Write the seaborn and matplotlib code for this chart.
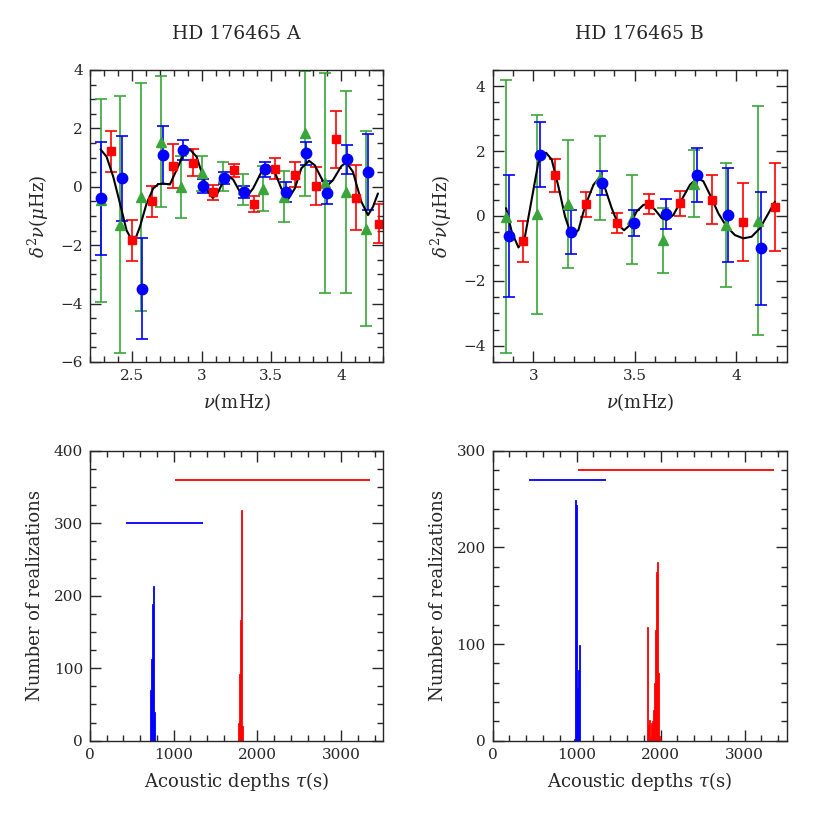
import numpy as np
import matplotlib
matplotlib.use("Agg")
import matplotlib.pyplot as plt
from matplotlib.ticker import MultipleLocator, FuncFormatter
import seaborn as sns

sns.set_style("ticks")
plt.rcParams['font.family'] = ['DejaVu Serif']
plt.rcParams['mathtext.fontset'] = 'dejavuserif'

# --- HD 176465 A : second differences (l=0 blue, l=1 red, l=2 green)
a_blue_x = [2.279, 2.427, 2.575, 2.720, 2.868, 3.011, 3.159, 3.305, 3.453, 3.603, 3.751, 3.897, 4.044, 4.195]
a_blue_y = [-0.40, 0.29, -3.49, 1.09, 1.26, 0.02, 0.29, -0.17, 0.60, -0.17, 1.14, -0.20, 0.94, 0.51]
a_blue_e = [1.95, 1.45, 1.72, 1.00, 0.35, 0.25, 0.20, 0.20, 0.25, 0.35, 0.40, 0.40, 0.50, 1.30]

a_red_x = [2.350, 2.498, 2.646, 2.792, 2.935, 3.083, 3.231, 3.374, 3.524, 3.672, 3.818, 3.966, 4.109, 4.269]
a_red_y = [1.22, -1.83, -0.49, 0.71, 0.83, -0.19, 0.57, -0.60, 0.61, 0.42, 0.02, 1.63, -0.37, -1.26]
a_red_e = [0.70, 0.70, 0.53, 0.74, 0.45, 0.25, 0.22, 0.27, 0.36, 0.44, 0.65, 0.98, 1.10, 0.67]

a_green_x = [2.276, 2.415, 2.563, 2.708, 2.856, 3.000, 3.150, 3.298, 3.441, 3.590, 3.740, 3.887, 4.032, 4.180]
a_green_y = [-0.46, -1.30, -0.34, 1.54, 0.00, 0.46, 0.34, -0.09, -0.06, -0.34, 1.83, 0.14, -0.17, -1.43]
a_green_e = [3.47, 4.40, 3.90, 2.25, 1.07, 0.60, 0.50, 0.52, 0.77, 0.87, 2.13, 3.77, 3.46, 3.35]

a_fit_x = [2.276, 2.319, 2.367, 2.415, 2.462, 2.498, 2.522, 2.558, 2.606, 2.653, 2.689, 2.725, 2.773,
           2.820, 2.868, 2.916, 2.964, 3.011, 3.047, 3.078, 3.107, 3.143, 3.190, 3.226, 3.274, 3.322,
           3.369, 3.429, 3.477, 3.524, 3.572, 3.620, 3.668, 3.715, 3.770, 3.811, 3.859, 3.894, 3.942,
           4.002, 4.038, 4.085, 4.145, 4.193, 4.228, 4.264]
a_fit_y = [1.28, 1.03, 0.34, -0.57, -1.49, -1.81, -1.83, -1.37, -0.57, -0.06, 0.09, 0.11, 0.08,
           0.57, 1.09, 1.28, 1.03, 0.34, -0.17, -0.37, -0.29, 0.06, 0.37, 0.25, -0.17, -0.34,
           -0.06, 0.51, 0.74, 0.51, -0.06, -0.43, -0.06, 0.63, 0.89, 0.74, 0.29, 0.00, 0.23,
           0.71, 0.83, 0.51, -0.51, -0.97, -0.69, -0.23]

# --- HD 176465 B
b_blue_x = [2.881, 3.033, 3.186, 3.341, 3.499, 3.655, 3.806, 3.962, 4.122]
b_blue_y = [-0.61, 1.89, -0.49, 1.01, -0.23, 0.06, 1.27, 0.03, -1.00]
b_blue_e = [1.88, 1.00, 0.67, 0.37, 0.40, 0.45, 0.83, 1.46, 1.74]

b_red_x = [2.951, 3.107, 3.260, 3.415, 3.571, 3.724, 3.880, 4.036, 4.193]
b_red_y = [-0.78, 1.25, 0.36, -0.23, 0.37, 0.39, 0.50, -0.18, 0.27]
b_red_e = [0.64, 0.50, 0.39, 0.31, 0.30, 0.39, 0.75, 1.21, 1.35]

b_green_x = [2.864, 3.020, 3.173, 3.329, 3.489, 3.638, 3.793, 3.949, 4.107]
b_green_y = [-0.02, 0.05, 0.37, 1.17, -0.10, -0.75, 0.99, -0.28, -0.14]
b_green_e = [4.20, 3.07, 1.96, 1.30, 1.37, 1.00, 1.03, 1.92, 3.52]

b_fit_x = [2.866, 2.894, 2.927, 2.959, 2.992, 3.025, 3.063, 3.091, 3.124, 3.157, 3.190, 3.223,
           3.255, 3.297, 3.321, 3.354, 3.387, 3.420, 3.448, 3.477, 3.510, 3.543, 3.568, 3.601,
           3.634, 3.658, 3.691, 3.732, 3.773, 3.809, 3.839, 3.872, 3.913, 3.954, 3.995, 4.036,
           4.077, 4.118, 4.160, 4.192]
b_fit_y = [0.24, -0.49, -0.97, -0.64, 0.50, 1.64, 1.95, 1.74, 0.91, -0.02, -0.64, -0.43,
           0.29, 0.96, 1.14, 0.86, 0.24, -0.28, -0.44, -0.28, 0.14, 0.34, 0.37, 0.19,
           -0.07, -0.12, 0.03, 0.50, 0.96, 1.17, 1.07, 0.65, 0.08, -0.33, -0.59, -0.69,
           -0.64, -0.38, 0.08, 0.44]

# --- acoustic depth histograms (bin centres, counts)
a_hist_blue_x = [719, 731, 743, 755, 767]
a_hist_blue_n = [70, 112, 188, 214, 40]
a_hist_red_x = [1772, 1784, 1796, 1808, 1820]
a_hist_red_n = [25, 92, 167, 318, 20]

b_hist_blue_x = [978, 990, 1002, 1014, 1026, 1038]
b_hist_blue_n = [2, 249, 244, 55, 73, 99]
b_hist_red_x = [1845, 1857, 1869, 1881, 1893, 1905, 1917, 1929, 1941, 1953, 1965, 1977, 1989, 2001]
b_hist_red_n = [118, 16, 21, 4, 18, 20, 32, 60, 115, 175, 185, 70, 5, 2]

# search ranges (x start, x end, level)
a_range_blue = [430, 1350, 300]
a_range_red = [1020, 3350, 360]
b_range_blue = [430, 1350, 270]
b_range_red = [1020, 3350, 280]

BLUE, RED, GREEN = '#0000ff', '#ff0000', '#3aa53a'
fmt = FuncFormatter(lambda v, p: f"{v:g}".replace("-", "\u2212"))

fig = plt.figure(figsize=(8.3, 8.3), dpi=100)
ax1 = fig.add_axes([0.1084, 0.5639, 0.3530, 0.3518])
ax2 = fig.add_axes([0.5936, 0.5639, 0.3542, 0.3518])
ax3 = fig.add_axes([0.1084, 0.1076, 0.3530, 0.3494])
ax4 = fig.add_axes([0.5936, 0.1076, 0.3542, 0.3494])


def style(ax, xmaj, xmin, ymaj, ymin):
    ax.xaxis.set_major_locator(MultipleLocator(xmaj))
    ax.xaxis.set_minor_locator(MultipleLocator(xmin))
    ax.yaxis.set_major_locator(MultipleLocator(ymaj))
    ax.yaxis.set_minor_locator(MultipleLocator(ymin))
    ax.xaxis.set_major_formatter(fmt)
    ax.yaxis.set_major_formatter(fmt)
    ax.tick_params(which='both', direction='in', top=True, right=True, labelsize=11, width=1)
    ax.tick_params(which='major', length=8, pad=5)
    ax.tick_params(which='minor', length=4.3)
    for s in ax.spines.values():
        s.set_linewidth(1.0)


def freq_panel(ax, g, r, b, fit, title, ylim, xlim):
    kw = dict(ls='none', elinewidth=1.2, capsize=4, capthick=1.2)
    ax.errorbar(g[0], g[1], yerr=g[2], color=GREEN, marker='^', ms=6.5, **kw)
    ax.errorbar(r[0], r[1], yerr=r[2], color=RED, marker='s', ms=5.5, **kw)
    ax.errorbar(b[0], b[1], yerr=b[2], color=BLUE, marker='o', ms=7.5, **kw)
    sns.lineplot(x=fit[0], y=fit[1], ax=ax, color='black', lw=1.5, sort=False, estimator=None)
    ax.set_xlim(*xlim)
    ax.set_ylim(*ylim)
    ax.set_xlabel(r'$\nu$(mHz)', fontsize=13, labelpad=6)
    ax.set_ylabel(r'$\delta^2\nu(\mu$Hz)', fontsize=13, labelpad=7)
    ax.set_title(title, fontsize=13.5, pad=22)


freq_panel(ax1, (a_green_x, a_green_y, a_green_e), (a_red_x, a_red_y, a_red_e),
           (a_blue_x, a_blue_y, a_blue_e), (a_fit_x, a_fit_y), 'HD 176465 A', (-6, 4), (2.2, 4.3))
style(ax1, 0.5, 0.1, 2, 0.5)
freq_panel(ax2, (b_green_x, b_green_y, b_green_e), (b_red_x, b_red_y, b_red_e),
           (b_blue_x, b_blue_y, b_blue_e), (b_fit_x, b_fit_y), 'HD 176465 B', (-4.5, 4.5), (2.8, 4.25))
style(ax2, 0.5, 0.1, 2, 0.5)


def hist_panel(ax, bx, bn, rx, rn, rb, rr, ymax):
    for xs, ns, c in [(bx, bn, BLUE), (rx, rn, RED)]:
        sns.histplot(x=xs, weights=ns, binwidth=12, binrange=(min(xs) - 6, max(xs) + 6),
                     ax=ax, color=c, alpha=1, edgecolor=c, linewidth=0.6, element='bars')
    ax.hlines(rb[2], rb[0], rb[1], color=BLUE, lw=1.3)
    ax.hlines(rr[2], rr[0], rr[1], color=RED, lw=1.3)
    ax.set_xlim(0, 3500)
    ax.set_ylim(0, ymax)
    ax.set_xlabel(r'Acoustic depths $\tau$(s)', fontsize=13, labelpad=6)
    ax.set_ylabel('Number of realizations', fontsize=13, labelpad=7)


hist_panel(ax3, a_hist_blue_x, a_hist_blue_n, a_hist_red_x, a_hist_red_n, a_range_blue, a_range_red, 400)
style(ax3, 1000, 200, 100, 25)
hist_panel(ax4, b_hist_blue_x, b_hist_blue_n, b_hist_red_x, b_hist_red_n, b_range_blue, b_range_red, 300)
style(ax4, 1000, 200, 100, 20)

fig.savefig('out.png', dpi=100)
